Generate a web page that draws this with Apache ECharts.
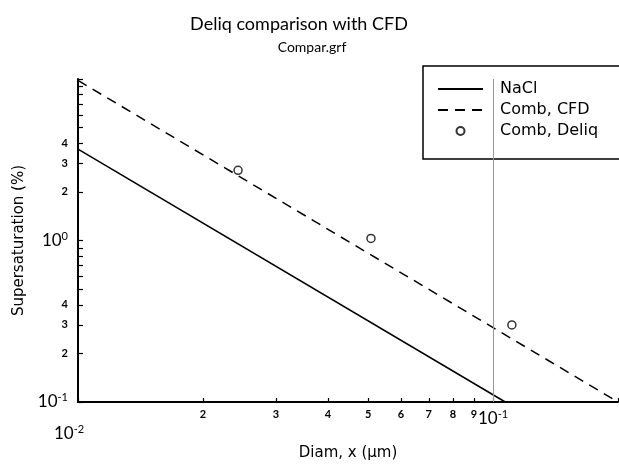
<!DOCTYPE html>
<html>
<head>
<meta charset="utf-8">
<script src="https://cdn.jsdelivr.net/npm/echarts@6/dist/echarts.min.js"></script>
<style>
html,body{margin:0;padding:0;background:#fff;}
#chart{width:619px;height:466px;}
</style>
</head>
<body>
<div id="chart"></div>
<script>
// values (log-log)
var naclDiam = [0.01, 0.107];
var naclSS = [3.68, 0.1];
var cfdDiam = [0.01, 0.2];
var cfdSS = [9.8, 0.1];
var deliqDiam = [0.0243, 0.0508, 0.111];
var deliqSS = [2.72, 1.03, 0.30];

var xTicks = [0.01, 0.02, 0.03, 0.04, 0.05, 0.06, 0.07, 0.08, 0.09, 0.1, 0.2];
var xLabels = [0.02, 0.03, 0.04, 0.05, 0.06, 0.07, 0.08, 0.09, 0.1];
var xDecadeLabels = [0.01];
var yTicks = [0.1, 0.2, 0.3, 0.4, 0.5, 0.6, 0.7, 0.8, 0.9, 1, 2, 3, 4, 5, 6, 7, 8, 9, 10];
var yLabels = [0.1, 0.2, 0.3, 0.4, 1, 2, 3, 4];

function zip(a, b){
	var out = [];
	for (var i = 0; i < a.length; i++) out.push([a[i], b[i]]);
	return out;
}

var FONT = 'Lato';
var NAMEFONT = 'DejaVu Sans';
var rich = {
	d: {fontSize: 17, fontFamily: FONT, color: '#000'},
	s: {fontSize: 11, fontFamily: FONT, color: '#000', padding: [0, 0, 9, 0]},
	n: {fontSize: 11, fontFamily: FONT, fontWeight: 'bold', color: '#000'}
};
function logLabel(v){
	var e = Math.round(Math.log10(v));
	if (Math.abs(v - Math.pow(10, e)) < 1e-9 * Math.pow(10, e)) {
		return '{d|10}{s|' + e + '}';
	}
	var m = Math.floor(Math.log10(v) + 1e-9);
	return '{n|' + Math.round(v / Math.pow(10, m)) + '}';
}

var chart = echarts.init(document.getElementById('chart'));
var option = {
	animation: false,
	backgroundColor: '#fff',
	title: [
		{text: 'Deliq comparison with CFD', left: 294, top: 10, textAlign: 'center',
		 textStyle: {fontFamily: FONT, fontSize: 18, fontWeight: 'normal', color: '#000'}},
		{text: 'Compar.grf', left: 307, top: 35, textAlign: 'center',
		 textStyle: {fontFamily: FONT, fontSize: 14, fontWeight: 'normal', color: '#000'}}
	],
	legend: {
		orient: 'vertical',
		left: 423,
		top: 66,
		width: 170,
		padding: [15, 30, 20, 14],
		borderColor: '#000',
		borderWidth: 1.5,
		itemWidth: 45,
		itemHeight: 8,
		itemGap: 5,
		textStyle: {fontFamily: NAMEFONT, fontSize: 16, color: '#000', padding: [0, 0, 0, 12]},
		data: [
			{name: 'NaCl', itemStyle: {opacity: 0}},
			{name: 'Comb, CFD', itemStyle: {opacity: 0}},
			{name: 'Comb, Deliq'}
		]
	},
	grid: {left: 78, right: 1, top: 79, bottom: 55},
	xAxis: [
		{
			type: 'log', logBase: 10, min: 0.01, max: 0.2,
			name: 'Diam, x (\u03bcm)', nameLocation: 'middle', nameGap: 44,
			nameTextStyle: {fontFamily: NAMEFONT, fontSize: 15, color: '#000'},
			axisLine: {show: true, lineStyle: {color: '#000', width: 2}},
			axisTick: {show: true, inside: true, length: 4, customValues: xTicks, lineStyle: {color: '#000', width: 1.2}},
			axisLabel: {customValues: xLabels, margin: 7, formatter: logLabel, rich: rich},
			splitLine: {show: false},
			minorTick: {show: false}
		},
		{
			type: 'log', logBase: 10, min: 0.01, max: 0.2, position: 'bottom',
			axisLine: {show: false},
			axisTick: {show: false},
			axisLabel: {customValues: xDecadeLabels, margin: 22, padding: [0, 18, 0, 0], formatter: logLabel, rich: rich},
			splitLine: {show: false}
		}
	],
	yAxis: {
		type: 'log', logBase: 10, min: 0.1, max: 10,
		name: 'Supersaturation (%)', nameLocation: 'middle', nameGap: 44,
		nameTextStyle: {fontFamily: NAMEFONT, fontSize: 15, color: '#000'},
		axisLine: {show: true, lineStyle: {color: '#000', width: 2}},
		axisTick: {show: true, inside: true, length: 5, customValues: yTicks, lineStyle: {color: '#000', width: 1.2}},
		axisLabel: {customValues: yLabels, margin: 10, formatter: logLabel, rich: rich},
		splitLine: {show: false},
		minorTick: {show: false}
	},
	series: [
		{
			name: 'NaCl', type: 'line', data: zip(naclDiam, naclSS),
			showSymbol: false, symbol: 'none',
			lineStyle: {color: '#000', width: 1.5},
			itemStyle: {color: '#000'},
			markLine: {
				silent: true, symbol: 'none', label: {show: false},
				lineStyle: {color: '#999', width: 1, type: 'solid'},
				data: [{xAxis: 0.1}]
			}
		},
		{
			name: 'Comb, CFD', type: 'line', data: zip(cfdDiam, cfdSS),
			showSymbol: false, symbol: 'none',
			lineStyle: {color: '#000', width: 1.5, type: [10, 7]},
			itemStyle: {color: '#000'}
		},
		{
			name: 'Comb, Deliq', type: 'scatter', data: zip(deliqDiam, deliqSS),
			symbol: 'circle', symbolSize: 8,
			itemStyle: {color: '#fff', borderColor: '#000', borderWidth: 1.5}
		}
	]
};
chart.setOption(option);
</script>
</body>
</html>
